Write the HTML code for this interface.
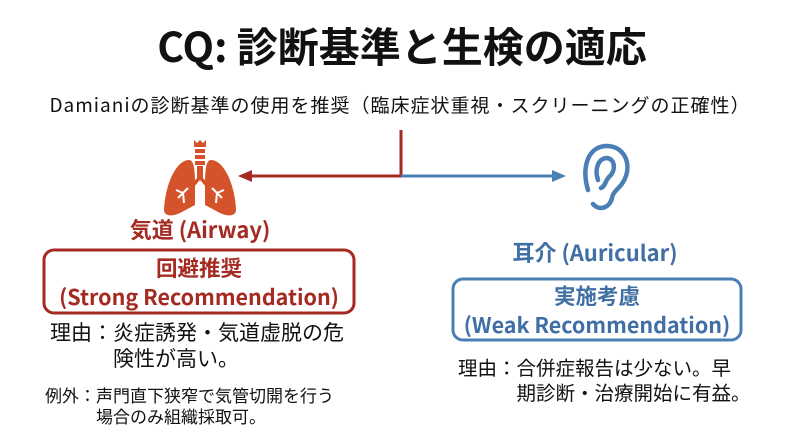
<!DOCTYPE html>
<html><head><meta charset="utf-8"><style>
body{margin:0;width:800px;height:434px;background:#fff;position:relative;overflow:hidden;font-family:"Noto Sans CJK JP","Liberation Sans",sans-serif;}
.a{position:absolute;white-space:nowrap;}
.c{text-align:center;}
</style></head><body>
<div class="a c" style="left:0;width:804px;top:16px;font-size:41px;font-weight:bold;color:#111;line-height:56px;">CQ: 診断基準と生検の適応</div>
<div class="a c" style="left:0;width:800px;top:91px;font-size:19px;letter-spacing:1px;color:#111;line-height:28px;">Damianiの診断基準の使用を推奨（臨床症状重視・スクリーニングの正確性）</div>
<svg class="a" style="left:0;top:0" width="800" height="434">
<line x1="401" y1="130" x2="401" y2="176" stroke="#a52a22" stroke-width="3"/>
<line x1="401" y1="176" x2="248" y2="176" stroke="#a52a22" stroke-width="3"/>
<polygon points="238,176 252,170 252,182" fill="#a52a22"/>
<line x1="401" y1="176" x2="555" y2="176" stroke="#4a7fb5" stroke-width="3"/>
<polygon points="566,176 552,170 552,182" fill="#4a7fb5"/>
<g fill="#d4532b">
<path d="M194 140 L197 143 L200 140 L203 143 L206 140 L206 147 L194 147Z"/>
<rect x="195" y="149" width="10" height="4"/>
<rect x="195" y="155" width="10" height="4"/>
<rect x="195" y="161" width="10" height="4"/>
<path d="M197 166 L197 178 L190 186 L193 188 L200 180 L207 188 L210 186 L203 178 L203 166Z"/>
<path d="M189 160 C176 160 165 185 164 210 C164 216 172 217 180 213 L195 205 L195 185 C195 170 194 160 189 160Z"/>
<path d="M211 160 C224 160 235 185 236 210 C236 216 228 217 220 213 L205 205 L205 185 C205 170 206 160 211 160Z"/>
</g>
<g stroke="#fff" stroke-width="2" fill="none">
<path d="M188 188 L178 198 M183 193 L176 190 M183 193 L184 203"/>
<path d="M212 188 L222 198 M217 193 L224 190 M217 193 L216 203"/>
</g>
<g stroke="#4a7fb5" stroke-width="4.5" fill="none" stroke-linecap="round">
<path d="M588 190 C582 170 586 148 605 146 C622 145 631 160 626 176 C622 188 613 190 612 198 C610 207 600 212 593 204"/>
<path d="M598 180 C594 168 599 158 607 158 C615 159 616 170 610 176 C605 180 606 186 601 188"/>
</g>
<rect x="44" y="250" width="310" height="63" rx="10" fill="none" stroke="#a52a22" stroke-width="3"/>
<rect x="453" y="279" width="288" height="61" rx="10" fill="none" stroke="#4a7fb5" stroke-width="3"/>
</svg>
<div class="a c" style="left:90px;width:220px;top:214px;font-size:22px;font-weight:bold;color:#a52a22;line-height:30px;">気道 (Airway)</div>
<div class="a c" style="left:44px;width:310px;top:253px;font-size:21.5px;font-weight:bold;color:#a52a22;line-height:29px;">回避推奨<br>(Strong Recommendation)</div>
<div class="a" style="left:50px;top:319px;font-size:21px;color:#111;line-height:26px;">理由：炎症誘発・気道虚脱の危<br>　　　険性が高い。</div>
<div class="a" style="left:45px;top:384px;font-size:17px;color:#111;line-height:21px;">例外：声門直下狭窄で気管切開を行う<br>　　　場合のみ組織採取可。</div>
<div class="a c" style="left:485px;width:220px;top:237px;font-size:22px;font-weight:bold;color:#3f6fa5;line-height:30px;">耳介 (Auricular)</div>
<div class="a c" style="left:453px;width:288px;top:281px;font-size:21.5px;font-weight:bold;color:#3f6fa5;line-height:29px;">実施考慮<br>(Weak Recommendation)</div>
<div class="a" style="left:458px;top:354px;font-size:19.5px;color:#111;line-height:25px;">理由：合併症報告は少ない。早<br>　　　期診断・治療開始に有益。</div>
</body></html>
